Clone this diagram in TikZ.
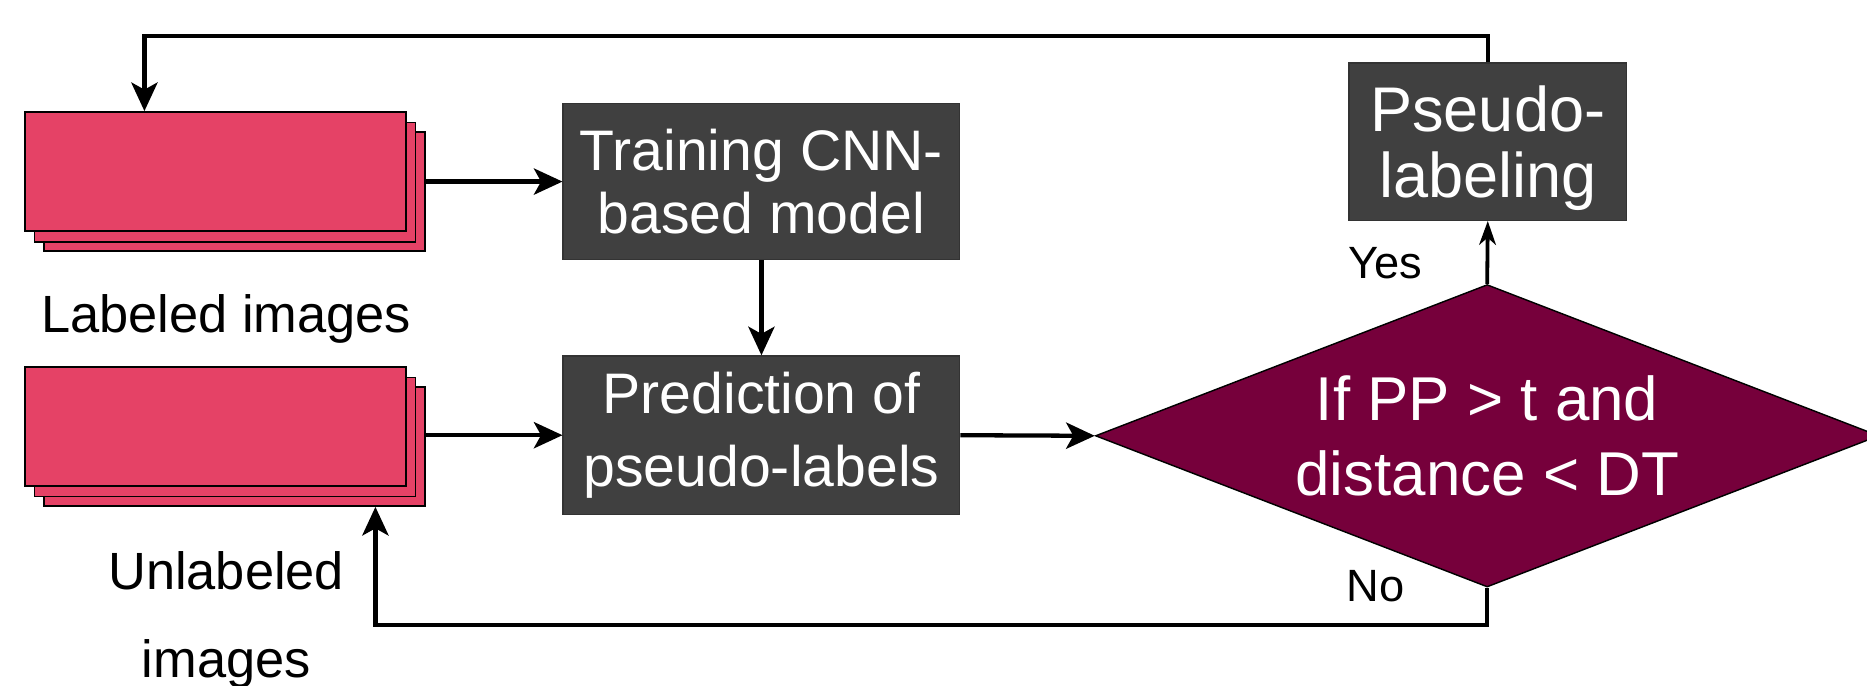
\documentclass[tikz,border=0pt]{standalone}
\usepackage{fontspec}
\setmainfont{Liberation Sans}
\usetikzlibrary{arrows.meta,shapes.geometric,positioning}

\definecolor{imgpink}{RGB}{229,66,102}
\definecolor{boxgray}{RGB}{64,64,64}
\definecolor{decwine}{RGB}{118,0,59}

\tikzset{
  imgsheet/.style={rectangle,draw=black,line width=1.4pt,fill=imgpink,minimum width=320pt,minimum height=100pt,inner sep=0pt},
  procbox/.style={rectangle,draw=black!80,line width=1.2pt,fill=boxgray,text=white,align=center,inner sep=0pt},
  flow/.style={line width=3.6pt,-{Stealth[length=24pt,width=22pt,inset=6pt]}},
  txt/.style={align=center}
}

\begin{document}
\begin{tikzpicture}[x=1pt,y=-1pt]
    \useasboundingbox (0,0) rectangle (1568,576);

    % image stacks
    \node(lab3)[imgsheet] at (197,161) {};
    \node(lab2)[imgsheet] at (189,153) {};
    \node(lab)[imgsheet] at (181,144) {};
    \node(unl3)[imgsheet] at (197,375) {};
    \node(unl2)[imgsheet] at (189,367) {};
    \node(unl)[imgsheet] at (181,358) {};
    \node(labtxt)[txt,font=\fontsize{44}{74}\selectfont] at (190,268) {Labeled images};
    \node(unltxt)[txt,font=\fontsize{44}{74}\selectfont] at (190,521) {Unlabeled\\images};

    % process
    \node(train)[procbox,minimum width=333pt,minimum height=131pt,font=\fontsize{48}{53}\selectfont] at (639.5,152.5) {Training CNN-\\based model};
    \node(pred)[procbox,minimum width=333pt,minimum height=133pt,font=\fontsize{48}{62}\selectfont] at (639.5,365.5) {Prediction of\\pseudo-labels};
    \node(cond)[diamond,aspect=2.6,draw=black,line width=1.2pt,fill=decwine,text=white,align=center,inner sep=0pt,minimum width=658pt,minimum height=254pt,font=\fontsize{52}{63}\selectfont] at (1249,366) {If PP > t and\\distance < DT};
    \node(pseudo)[procbox,minimum width=233pt,minimum height=132pt,font=\fontsize{53}{56}\selectfont] at (1249.5,119) {\raisebox{-8pt}[\height][\depth]{\begin{tabular}{@{}c@{}}Pseudo-\\labeling\end{tabular}}};

    \draw[flow] (lab3.east |- train.west) -- (train.west);
    \draw[flow] (unl3.east |- pred.west) -- (pred.west);
    \draw[flow] (train.south) -- (pred.north);
    \draw[flow] (pred.east) -- (cond.west);
    \draw[line width=3.2pt,-{Stealth[length=20pt,width=14pt,inset=6pt]}] (cond.north) -- (pseudo.south)
      node[pos=0.33,left=50pt,font=\fontsize{38}{40}\selectfont] {Yes};
    \draw[flow] (pseudo.north) -- ++(0,-22) -| ([xshift=101pt]lab.north west);
    \draw[flow] (cond.south) -- ++(0,31) -| ([xshift=279pt]unl3.south west);
    \node(no)[font=\fontsize{38}{40}\selectfont] at (1155,492) {No};

  \end{tikzpicture}
\end{document}
